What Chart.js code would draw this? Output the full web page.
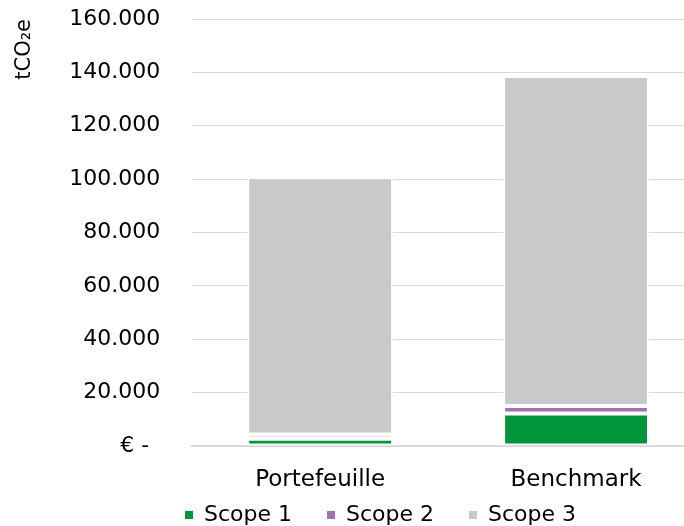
<!DOCTYPE html>
<html>
<head>
<meta charset="utf-8">
<script src="https://cdn.jsdelivr.net/npm/chart.js@4"></script>
<style>
  html, body { margin: 0; padding: 0; background: #fff; overflow: hidden; }
  #wrap { width: 704px; height: 526px; position: relative; }
</style>
</head>
<body>
<div id="wrap"><canvas id="emissionsChart"></canvas></div>
<script>
'use strict'

const categories = ['Portefeuille', 'Benchmark'];
const scope1 = [2700, 12200];
const scope2 = [1600, 2800];
const scope3 = [96400, 123600];
const seriesNames = ['Scope 1', 'Scope 2', 'Scope 3'];
const yTickLabels = ['€ -\u2002', '20.000', '40.000', '60.000', '80.000', '100.000', '120.000', '140.000', '160.000'];

const FONT = 'DejaVu Sans, Liberation Sans, Arial, sans-serif';

// move the legend to where the reference has it
const legendShift = {
  id: 'legendShift',
  afterLayout(chart) {
    const lg = chart.legend;
    lg.left += 40;
    lg.right += 40;
    lg.top += 10;
    lg.bottom += 10;
  }
};

const ctx = document.getElementById('emissionsChart');

function seg(label, data, color) {
  return {
    label: label,
    data: data,
    backgroundColor: color,
    borderColor: '#ffffff',
    borderWidth: 2,
    borderSkipped: false,
    categoryPercentage: 1,
    barPercentage: 0.57,
  };
}

new Chart(ctx, {
  type: 'bar',
  data: {
    labels: categories,
    datasets: [
      seg(seriesNames[0], scope1, '#00953A'),
      seg(seriesNames[1], scope2, '#A074B0'),
      seg(seriesNames[2], scope3, '#C8C9CB'),
    ]
  },
  plugins: [legendShift],
  options: {
    responsive: true,
    maintainAspectRatio: false,
    animation: false,
    layout: { padding: { top: 0, left: 12, right: 0, bottom: 0 } },
    plugins: {
      tooltip: { enabled: false },
      legend: {
        position: 'bottom',
        labels: {
          color: '#000',
          font: { family: FONT, size: 22 },
          boxWidth: 8,
          boxHeight: 8,
          padding: 0,
          generateLabels(chart) {
            const items = Chart.defaults.plugins.legend.labels.generateLabels(chart);
            items.forEach(it => {
              it.text = it.text + '\u00a0\u00a0\u00a0\u00a0\u00a0';
              it.lineWidth = 0;
            });
            return items;
          }
        }
      }
    },
    scales: {
      x: {
        stacked: true,
        grid: { display: false, drawTicks: false },
        border: { display: true, color: '#D9D9D9', width: 2 },
        ticks: { color: '#000', font: { family: FONT, size: 23 }, padding: 20 },
        afterFit(scale) { scale.height = 48; }
      },
      y: {
        stacked: true,
        min: 0,
        max: 160000,
        grid: { color: '#D9D9D9', lineWidth: 1, drawTicks: false },
        border: { display: false },
        ticks: {
          stepSize: 20000,
          color: '#000',
          font: { family: FONT, size: 22 },
          padding: 32,
          callback: (v, i) => yTickLabels[i]
        },
        title: {
          display: true,
          text: 'tCO₂e',
          align: 'end',
          color: '#000',
          font: { family: FONT, size: 21 },
          padding: { top: 0, bottom: 0 }
        },
        afterFit(scale) {
          scale.paddingTop = 19;
          scale.paddingBottom = 13;
        }
      }
    }
  }
});
</script>
</body>
</html>
